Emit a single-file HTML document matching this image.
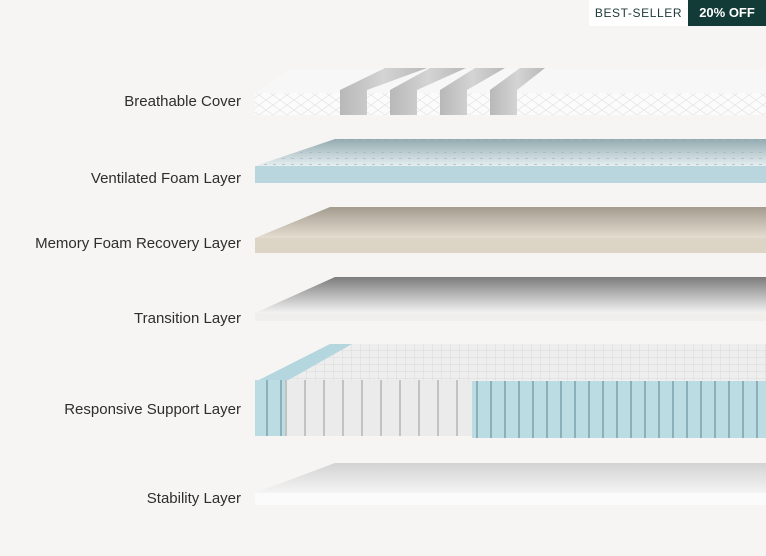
<!DOCTYPE html>
<html><head><style>
html,body{margin:0;padding:0;background:#f6f5f3;}
body{width:766px;height:556px;position:relative;overflow:hidden;font-family:"Liberation Sans",sans-serif;}
.l{position:absolute;right:525px;font-size:15px;color:#2e2e2e;white-space:nowrap;}
.b1{position:absolute;left:589px;top:0;width:99px;height:26px;background:#fff;color:#1e3b38;font-size:12px;letter-spacing:.6px;line-height:26px;text-align:center;}
.b2{position:absolute;left:688px;top:0;width:78px;height:26px;background:#123a36;color:#fff;font-size:13px;font-weight:bold;line-height:26px;text-align:center;}
svg{position:absolute;left:0;top:0;}
</style></head><body>
<div class="b1">BEST-SELLER</div><div class="b2">20% OFF</div>
<svg width="766" height="556">
<defs>
<pattern id="dia" width="14" height="10" patternUnits="userSpaceOnUse"><path d="M0 0L14 10M14 0L0 10" stroke="#e0e0e0" stroke-width=".6"/></pattern>
<linearGradient id="gT" x1="0" y1="0" x2="0" y2="1"><stop offset="0" stop-color="#7c7c7c"/><stop offset="1" stop-color="#f3f3f3"/></linearGradient>
<linearGradient id="gS" x1="0" y1="0" x2="0" y2="1"><stop offset="0" stop-color="#d3d3d3"/><stop offset="1" stop-color="#f4f4f4"/></linearGradient>
<linearGradient id="gM" x1="0" y1="0" x2="0" y2="1"><stop offset="0" stop-color="#a39c8f"/><stop offset="1" stop-color="#e4ddd0"/></linearGradient>
<linearGradient id="gV" x1="0" y1="0" x2="0" y2="1"><stop offset="0" stop-color="#93aab0"/><stop offset="1" stop-color="#e6eff1"/></linearGradient>
<linearGradient id="gStrap" x1="0" y1="0" x2="1" y2="0"><stop offset="0" stop-color="#b8b8b8"/><stop offset=".5" stop-color="#d4d4d4"/><stop offset="1" stop-color="#b8b8b8"/></linearGradient>
<pattern id="dots" width="9" height="6" patternUnits="userSpaceOnUse"><rect x="3" y="2" width="3" height="1" fill="#a5b8bd"/></pattern>
<pattern id="coil" width="19" height="60" patternUnits="userSpaceOnUse"><rect width="19" height="60" fill="#ebebeb"/><rect x="0" width="2" height="60" fill="#c2c2c2"/></pattern>
<pattern id="coilb" width="14" height="60" patternUnits="userSpaceOnUse"><rect width="14" height="60" fill="#bcdce3"/><rect x="0" width="2" height="60" fill="#8cb0b9"/></pattern>
<pattern id="grid" width="9" height="7" patternUnits="userSpaceOnUse"><rect width="9" height="7" fill="#eeeeee"/><path d="M0 0H9M0 0V7" stroke="#d2d2d2" stroke-width=".7"/></pattern>
</defs>
<!-- cover -->
<polygon points="255,93 290,69 766,69 766,93" fill="#f7f7f7"/>
<rect x="255" y="93" width="511" height="22" fill="#fbfbfb"/>
<rect x="255" y="93" width="511" height="22" fill="url(#dia)"/>
<g fill="url(#gStrap)">
<polygon points="340,115 340,90 385,68 427,68 367,90 367,115"/>
<polygon points="390,115 390,90 430,68 466,68 417,90 417,115"/>
<polygon points="440,115 440,90 475,68 505,68 467,90 467,115"/>
<polygon points="490,115 490,90 520,68 545,68 517,90 517,115"/>
</g>
<!-- ventilated -->
<polygon points="255,166 335,139 766,139 766,166" fill="url(#gV)"/>
<polygon points="255,166 335,139 766,139 766,166" fill="url(#dots)" opacity=".7"/>
<rect x="255" y="166" width="511" height="17" fill="#b9d6df"/>
<!-- memory -->
<polygon points="255,238 330,207 766,207 766,238" fill="url(#gM)"/>
<rect x="255" y="238" width="511" height="15" fill="#dcd4c5"/>
<!-- transition -->
<polygon points="255,313 335,277 766,277 766,313" fill="url(#gT)"/>
<rect x="255" y="313" width="511" height="8" fill="#f0efec"/>
<!-- support -->
<polygon points="255,382 330,344 766,344 766,382" fill="url(#grid)"/>
<polygon points="255,382 330,344 352,344 285,382" fill="#b4d6de"/>
<rect x="255" y="380" width="30" height="56" fill="url(#coilb)"/>
<rect x="285" y="380" width="187" height="56" fill="url(#coil)"/>
<rect x="472" y="381" width="294" height="57" fill="url(#coilb)"/>
<!-- stability -->
<polygon points="255,493 335,463 766,463 766,493" fill="url(#gS)"/>
<rect x="255" y="493" width="511" height="12" fill="#fbfbfb"/>
</svg>
<div class="l" style="top:93px">Breathable Cover</div>
<div class="l" style="top:170px">Ventilated Foam Layer</div>
<div class="l" style="top:235px">Memory Foam Recovery Layer</div>
<div class="l" style="top:310px">Transition Layer</div>
<div class="l" style="top:401px">Responsive Support Layer</div>
<div class="l" style="top:490px">Stability Layer</div>
</body></html>
